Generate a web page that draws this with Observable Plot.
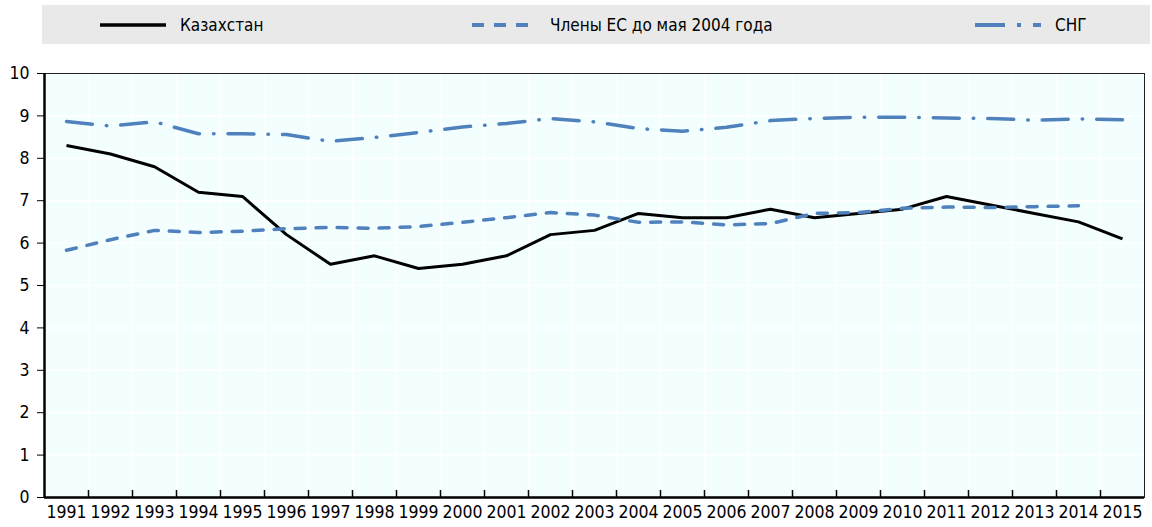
<!DOCTYPE html>
<html>
<head>
<meta charset="utf-8">
<script src="https://cdn.jsdelivr.net/npm/d3@7"></script>
<script src="https://cdn.jsdelivr.net/npm/@observablehq/plot@0.6"></script>
<style>
  body { margin: 0; background: #fff; font-family: "Liberation Sans Narrow", "Arial Narrow", "DejaVu Sans Condensed", sans-serif; }
  #legend { position: relative; margin: 5px 0 0 42px; width: 1108px; height: 39px; background: #e9e9e9; }
  .item { position: absolute; top: 0; height: 39px; display: flex; align-items: center; font-size: 17px; color: #000; }
  .item svg { margin-right: 14px; }
  #chart { margin-top: 4px; line-height: 0; }
</style>
</head>
<body>
<div id="legend"></div>
<div id="chart"></div>
<script>
const years = [1991,1992,1993,1994,1995,1996,1997,1998,1999,2000,2001,2002,2003,2004,2005,2006,2007,2008,2009,2010,2011,2012,2013,2014,2015];
const kazakhstan = [8.3,8.1,7.8,7.2,7.1,6.2,5.5,5.7,5.4,5.5,5.7,6.2,6.3,6.7,6.6,6.6,6.8,6.6,6.7,6.8,7.1,6.9,6.7,6.5,6.1];
const eu15 = [5.83,6.08,6.3,6.25,6.28,6.34,6.37,6.35,6.39,6.49,6.6,6.72,6.66,6.49,6.5,6.43,6.46,6.7,6.72,6.82,6.85,6.84,6.86,6.88,null];
const cis = [8.87,8.76,8.86,8.58,8.58,8.56,8.4,8.49,8.61,8.74,8.82,8.94,8.86,8.7,8.64,8.73,8.89,8.94,8.97,8.97,8.95,8.94,8.9,8.93,8.91];
const yTicks = [0,1,2,3,4,5,6,7,8,9,10];
const seriesNames = ["Казахстан", "Члены ЕС до мая 2004 года", "СНГ"];

const blue = "#4f81bd";
const styles = [
  {stroke: "#000", strokeWidth: 3, dash: null, cap: "butt"},
  {stroke: blue, strokeWidth: 3.5, dash: "10,11", cap: "round"},
  {stroke: blue, strokeWidth: 3.5, dash: "26,14,0.5,14", cap: "round"}
];

// legend
const legendPos = [58, 428, 933];
const legend = document.getElementById("legend");
seriesNames.forEach((name, i) => {
  const div = document.createElement("div");
  div.className = "item";
  div.style.left = legendPos[i] + "px";
  const w = 66;
  let swatch = "";
  if (i === 0) swatch = `<line x1="0" x2="${w}" y1="6" y2="6" stroke="#000" stroke-width="3.5"/>`;
  else if (i === 1) swatch = `<line x1="2" x2="${w}" y1="6" y2="6" stroke="${blue}" stroke-width="4" stroke-dasharray="12,10"/>`;
  else swatch = `<line x1="0" x2="${w}" y1="6" y2="6" stroke="${blue}" stroke-width="4" stroke-dasharray="30,12,4,12"/>`;
  div.innerHTML = `<svg width="${w}" height="12">${swatch}</svg><span>${name}</span>`;
  legend.appendChild(div);
});

const rows = [];
[kazakhstan, eu15, cis].forEach((arr, si) => {
  years.forEach((y, i) => {
    if (arr[i] != null) rows.push({series: seriesNames[si], year: y, value: arr[i]});
  });
});
const boundaries = years.slice(0, -1).map(y => y + 0.5);

const W = 1152, H = 479, mT = 25, mB = 30, mL = 44, mR = 8;
const plotH = H - mT - mB;

const chart = Plot.plot({
  width: W, height: H,
  marginTop: mT, marginBottom: mB, marginLeft: mL, marginRight: mR,
  style: {fontFamily: '"Liberation Sans Narrow", "Arial Narrow", "DejaVu Sans Condensed", sans-serif', fontSize: "17px", background: "#fff", color: "#000"},
  x: {domain: [years[0] - 0.5, years[years.length - 1] + 0.5]},
  y: {domain: [0, 10]},
  marks: [
    Plot.frame({fill: "#f3ffff", stroke: null}),
    Plot.ruleX(boundaries, {stroke: "#fff", strokeWidth: 1.5}),
    Plot.ruleY(yTicks.slice(1), {stroke: "#fff", strokeWidth: 1.5}),
    Plot.frame({stroke: "#222", strokeWidth: 1}),
    Plot.axisY({ticks: yTicks, tickSize: 7, tickPadding: 8, label: null, fontSize: 17.5}),
    Plot.axisX({ticks: years, tickSize: 0, tickPadding: 8, tickFormat: d => String(d), label: null, fontSize: 17.5}),
    Plot.ruleX(boundaries, {stroke: "#000", strokeWidth: 1.5, insetTop: plotH - 7}),
    ...seriesNames.map((name, i) => Plot.line(rows.filter(d => d.series === name), {
      x: "year", y: "value",
      stroke: styles[i].stroke, strokeWidth: styles[i].strokeWidth,
      strokeDasharray: styles[i].dash, strokeLinecap: styles[i].cap, strokeLinejoin: "round"
    })),
    Plot.ruleX([years[0] - 0.5], {stroke: "#000", strokeWidth: 2.5}),
    Plot.ruleY([0], {stroke: "#000", strokeWidth: 2.5})
  ]
});
document.getElementById("chart").appendChild(chart);
</script>
</body>
</html>
